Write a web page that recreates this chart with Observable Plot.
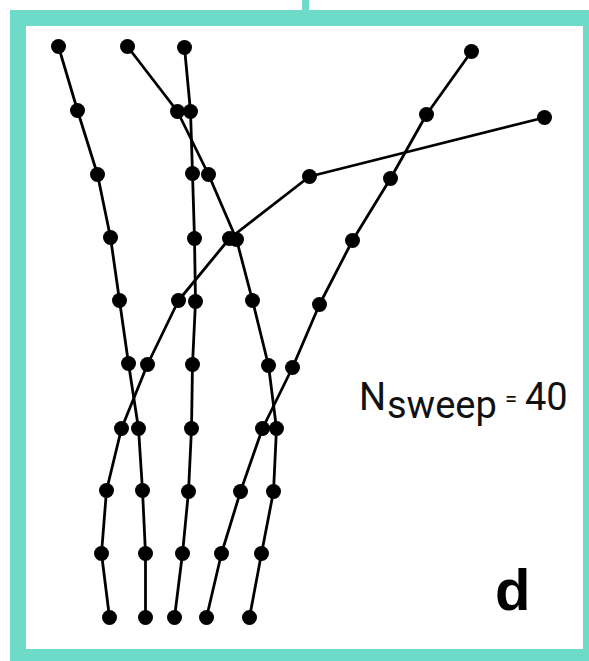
<!DOCTYPE html>
<html><head><meta charset="utf-8">
<script src="https://cdn.jsdelivr.net/npm/d3@7"></script>
<script src="https://cdn.jsdelivr.net/npm/@observablehq/plot@0.6"></script>
<style>
html,body{margin:0;padding:0;background:#fff;}
#wrap{position:relative;width:589px;height:661px;overflow:hidden;background:#fff;}
#chart{position:absolute;left:0;top:0;}
.frame{position:absolute;left:10px;top:10px;width:557px;height:623px;border:16px solid #6ddbc7;box-sizing:content-box;pointer-events:none;}
.tick{position:absolute;left:302px;top:0;width:7px;height:11px;background:#6ddbc7;}
</style></head>
<body>
<div id="wrap"><div id="chart"></div><div class="frame"></div><div class="tick"></div></div>
<script>
// Trajectories (x position, y = sweep level)
const s1x = [58, 77, 97, 110, 119, 128, 138, 142, 145, 145];
const s1y = [46, 110, 174, 237, 300, 363, 428, 490, 553, 617];
const s2x = [127, 177, 208, 236, 252, 268, 276, 273, 261, 249];
const s2y = [46, 111, 174, 239, 300, 365, 428, 491, 553, 617];
const s3x = [184, 190, 192, 194, 195, 192, 191, 188, 182, 174];
const s3y = [47, 111, 173, 238, 301, 364, 428, 491, 553, 617];
const s4x = [471, 426, 390, 352, 319, 292, 262, 240, 221, 206];
const s4y = [51, 114, 178, 240, 304, 367, 428, 491, 553, 617];
const s5x = [544, 309, 229, 178, 147, 121, 106, 101, 109];
const s5y = [117, 176, 238, 300, 364, 428, 490, 553, 617];
const seriesNames = ["s1", "s2", "s3", "s4", "s5"];
const labelMain = "N";
const labelSub = "sweep";
const labelEq = "=";
const labelVal = "40";
const panelLetter = "d";

const xs = [s1x, s2x, s3x, s4x, s5x];
const ys = [s1y, s2y, s3y, s4y, s5y];
const data = seriesNames.flatMap((name, k) => xs[k].map((x, i) => ({series: name, x, y: ys[k][i]})));

const chart = Plot.plot({
  width: 589, height: 661, margin: 0,
  x: {domain: [0, 589], axis: null},
  y: {domain: [0, 661], reverse: true, axis: null},
  marks: [
    Plot.line(data, {x: "x", y: "y", z: "series", stroke: "#000", strokeWidth: 2.8}),
    Plot.dot(data, {x: "x", y: "y", r: 7.5, fill: "#000", stroke: "none"})
  ]
});
document.getElementById("chart").appendChild(chart);

const svg = d3.select(chart);
const t = svg.append("text").attr("font-family", "Roboto, sans-serif").attr("fill", "#111")
  .attr("font-size", 38).attr("text-anchor", "start");
t.append("tspan").attr("x", 359).attr("y", 410).text(labelMain);
t.append("tspan").attr("x", 387).attr("y", 418).text(labelSub);
t.append("tspan").attr("x", 505).attr("y", 406).attr("font-size", 22).text(labelEq);
t.append("tspan").attr("x", 525).attr("y", 410).text(labelVal);
svg.append("text").attr("x", 495).attr("y", 610).attr("text-anchor", "start")
  .attr("font-family", "Liberation Sans, Arial, sans-serif")
  .attr("font-weight", "bold").attr("font-size", 58).attr("fill", "#000").text(panelLetter);
</script>
</body></html>
